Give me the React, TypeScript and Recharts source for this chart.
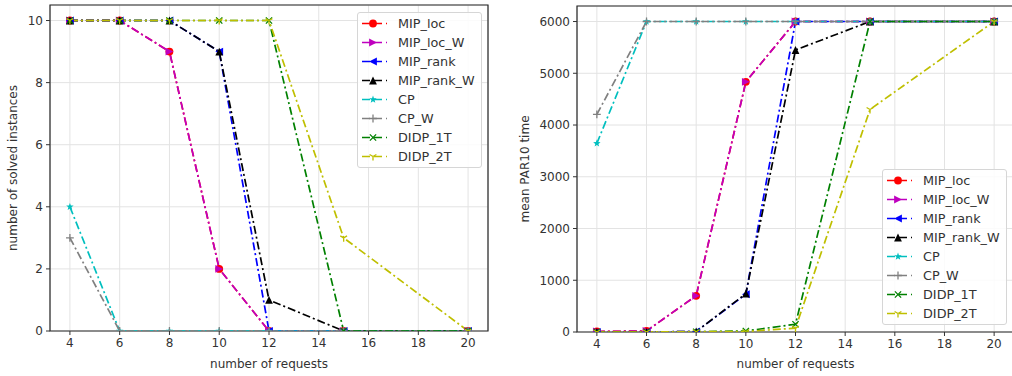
import React from 'react';
import { LineChart, Line, XAxis, YAxis, CartesianGrid, ReferenceArea } from 'recharts';

// x categories (number of requests)
const requests = [4, 6, 8, 10, 12, 15, 20];
const xTicks = [4, 6, 8, 10, 12, 14, 16, 18, 20];
const solvedTicks = [0, 2, 4, 6, 8, 10];
const par10Ticks = [0, 1000, 2000, 3000, 4000, 5000, 6000];

const seriesNames = ['MIP_loc', 'MIP_loc_W', 'MIP_rank', 'MIP_rank_W', 'CP', 'CP_W', 'DIDP_1T', 'DIDP_2T'];

// left panel: number of solved instances
const solvedMipLoc = [10, 10, 9, 2, 0, 0, 0];
const solvedMipLocW = [10, 10, 9, 2, 0, 0, 0];
const solvedMipRank = [10, 10, 10, 9, 0, 0, 0];
const solvedMipRankW = [10, 10, 10, 9, 1, 0, 0];
const solvedCp = [4, 0, 0, 0, 0, 0, 0];
const solvedCpW = [3, 0, 0, 0, 0, 0, 0];
const solvedDidp1T = [10, 10, 10, 10, 10, 0, 0];
const solvedDidp2T = [10, 10, 10, 10, 10, 3, 0];

// right panel: mean PAR10 time
const parMipLoc = [10, 20, 700, 4835, 6000, 6000, 6000];
const parMipLocW = [10, 20, 700, 4835, 6000, 6000, 6000];
const parMipRank = [0, 0, 10, 730, 6000, 6000, 6000];
const parMipRankW = [0, 0, 10, 740, 5450, 6000, 6000];
const parCp = [3645, 6000, 6000, 6000, 6000, 6000, 6000];
const parCpW = [4205, 6000, 6000, 6000, 6000, 6000, 6000];
const parDidp1T = [0, 0, 5, 20, 150, 6000, 6000];
const parDidp2T = [0, 0, 5, 10, 75, 4300, 6000];

const colors = ['#ff0000', '#bf00bf', '#0000ff', '#000000', '#00bfbf', '#808080', '#008000', '#bfbf00'];
const markers = ['o', '>', '<', '^', '*', '+', 'x', '1'];

const solvedSeries = [solvedMipLoc, solvedMipLocW, solvedMipRank, solvedMipRankW, solvedCp, solvedCpW, solvedDidp1T, solvedDidp2T];
const parSeries = [parMipLoc, parMipLocW, parMipRank, parMipRankW, parCp, parCpW, parDidp1T, parDidp2T];

const buildRows = (series: number[][]) =>
  requests.map((x, i) => {
    const row: any = { x };
    seriesNames.forEach((name, k) => (row[name] = series[k][i]));
    return row;
  });

const solvedData = buildRows(solvedSeries);
const parData = buildRows(parSeries);

const FONT = '"DejaVu Sans", sans-serif';
const TEXT = '#333333';

function Marker({ cx, cy, shape, color, s = 3.9 }: any) {
  if (cx == null || cy == null) return null;
  switch (shape) {
    case 'o':
      return <circle cx={cx} cy={cy} r={s} fill={color} />;
    case '>':
      return <polygon points={`${cx + s},${cy} ${cx - s},${cy - s} ${cx - s},${cy + s}`} fill={color} />;
    case '<':
      return <polygon points={`${cx - s},${cy} ${cx + s},${cy - s} ${cx + s},${cy + s}`} fill={color} />;
    case '^':
      return <polygon points={`${cx},${cy - s} ${cx - s},${cy + s} ${cx + s},${cy + s}`} fill={color} />;
    case '*': {
      const pts: string[] = [];
      for (let i = 0; i < 10; i++) {
        const r = i % 2 === 0 ? s : s * 0.42;
        const a = -Math.PI / 2 + (i * Math.PI) / 5;
        pts.push(`${cx + r * Math.cos(a)},${cy + r * Math.sin(a)}`);
      }
      return <polygon points={pts.join(' ')} fill={color} />;
    }
    case '+':
      return (
        <path d={`M${cx - s},${cy}H${cx + s}M${cx},${cy - s}V${cy + s}`} stroke={color} strokeWidth={1.3} fill="none" />
      );
    case 'x':
      return (
        <path
          d={`M${cx - s * 0.8},${cy - s * 0.8}L${cx + s * 0.8},${cy + s * 0.8}M${cx - s * 0.8},${cy + s * 0.8}L${cx + s * 0.8},${cy - s * 0.8}`}
          stroke={color}
          strokeWidth={1.3}
          fill="none"
        />
      );
    case '1':
      return (
        <path
          d={`M${cx},${cy}V${cy + s}M${cx},${cy}L${cx - s * 0.87},${cy - s * 0.5}M${cx},${cy}L${cx + s * 0.87},${cy - s * 0.5}`}
          stroke={color}
          strokeWidth={1.3}
          fill="none"
        />
      );
    default:
      return null;
  }
}

function LegendBox({ left, top }: { left: number; top: number }) {
  return (
    <div
      style={{
        position: 'absolute',
        left,
        top,
        width: 123,
        padding: '1px 0 1px 0',
        border: '1px solid #d6d6d6',
        borderRadius: 3,
        background: 'rgba(255,255,255,0.85)',
        fontFamily: FONT,
        fontSize: 12.8,
        color: TEXT,
        lineHeight: '19px',
      }}
    >
      {seriesNames.map((name, k) => (
        <div key={name} style={{ display: 'flex', alignItems: 'center', height: 19 }}>
          <svg width={40} height={19} style={{ flex: 'none' }}>
            <line x1={4} x2={29} y1={9.5} y2={9.5} stroke={colors[k]} strokeWidth={1.7} strokeDasharray="8 4" />
            <Marker cx={15} cy={9.5} shape={markers[k]} color={colors[k]} />
          </svg>
          <span style={{ whiteSpace: 'nowrap' }}>{name}</span>
        </div>
      ))}
    </div>
  );
}

function Panel({ data, width, plotLeft, right, top, bottom, yDomain, yTicks, yLabel, labelX }: any) {
  const tick = { fontFamily: FONT, fontSize: 12, fill: TEXT };
  const yLabelContent = (p: any) => {
    const vb = p.viewBox || {};
    const cy = vb.y + vb.height / 2;
    return (
      <text
        x={labelX}
        y={cy}
        transform={`rotate(-90 ${labelX} ${cy})`}
        textAnchor="middle"
        dominantBaseline="central"
        style={{ fontFamily: FONT, fontSize: 12, fill: TEXT }}
      >
        {yLabel}
      </text>
    );
  };
  return (
    <LineChart width={width} height={376} data={data} margin={{ top, right, left: 0, bottom: 0 }}>
      <CartesianGrid stroke="#e3e3e3" strokeWidth={1} />
      <XAxis
        dataKey="x"
        type="number"
        domain={[3.2, 20.8]}
        ticks={xTicks}
        allowDataOverflow
        height={bottom}
        axisLine={false}
        tickSize={4}
        tickLine={{ stroke: TEXT }}
        tick={tick}
        tickMargin={3}
        label={{ value: 'number of requests', position: 'insideBottom', offset: 8, style: { fontFamily: FONT, fontSize: 12, fill: TEXT } }}
      />
      <YAxis
        type="number"
        domain={yDomain}
        ticks={yTicks}
        allowDataOverflow
        width={plotLeft}
        axisLine={false}
        tickSize={4}
        tickLine={{ stroke: TEXT }}
        tick={tick}
        tickMargin={3}
        label={{ content: yLabelContent }}
      />
      <ReferenceArea x1={3.2} x2={20.8} y1={yDomain[0]} y2={yDomain[1]} fill="none" stroke="#262626" strokeWidth={1.2} ifOverflow="visible" />
      {seriesNames.map((name, k) => (
        <Line
          key={name}
          dataKey={name}
          stroke={colors[k]}
          strokeWidth={1.7}
          strokeDasharray="8 3 2 3"
          isAnimationActive={false}
          activeDot={false}
          dot={(p: any) => <Marker key={`${name}-${p.index}`} cx={p.cx} cy={p.cy} shape={markers[k]} color={colors[k]} />}
        />
      ))}
    </LineChart>
  );
}

export default function App() {
  return (
    <div style={{ position: 'absolute', left: 0, top: 0, width: 1012, height: 376, overflow: 'hidden', background: '#fff' }}>
      <div style={{ position: 'absolute', left: 0, top: 0 }}>
        <Panel
          data={solvedData}
          width={500}
          plotLeft={50}
          right={12}
          top={5}
          bottom={45}
          yDomain={[0, 10.5]}
          yTicks={solvedTicks}
          yLabel="number of solved instances"
          labelX={13}
        />
      </div>
      <div style={{ position: 'absolute', left: 500, top: 0 }}>
        <Panel
          data={parData}
          width={514}
          plotLeft={77}
          right={0}
          top={6}
          bottom={44}
          yDomain={[0, 6300]}
          yTicks={par10Ticks}
          yLabel="mean PAR10 time"
          labelX={25}
        />
      </div>
      <LegendBox left={357} top={12} />
      <LegendBox left={882} top={169} />
    </div>
  );
}
